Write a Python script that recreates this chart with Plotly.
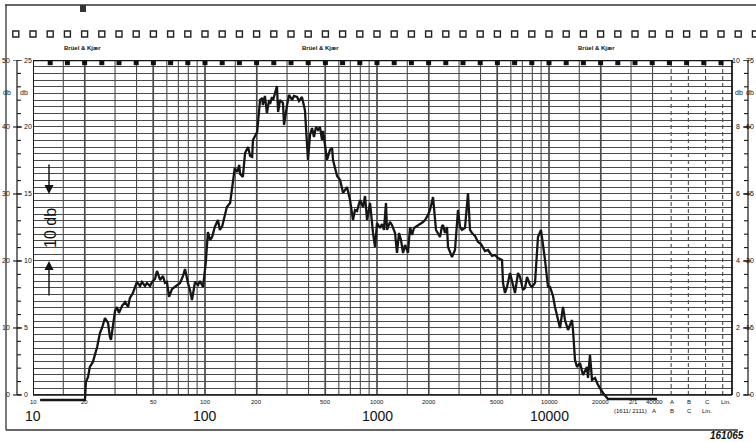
import numpy as np
import plotly.graph_objects as go

# Recorder trace: frequency (Hz) and level (dB on the 0-50 scale)
FREQ_HZ = [
    11, 20, 20.1, 20.3, 20.9, 21.4, 22.3, 23.6, 24.5, 25.2, 26.2, 27.3, 28.0, 28.4, 30.0,
    30.8, 31.6, 32.9, 34.3, 35.7, 36.6, 38.1, 40.2, 41.9, 43.0, 44.8, 46.0, 47.9, 49.2,
    51.2, 52.6, 54.8, 57.0, 58.5, 60.1, 61.8, 64.3, 66.9, 69.7, 71.6, 74.5, 76.5, 79.6,
    81.8, 84.0, 87.5, 91.1, 93.5, 97.4, 101, 104, 107, 110, 114, 119, 122, 126, 131, 134,
    140, 146, 149, 154, 158, 160, 166, 171, 178, 183, 188, 190, 201, 209, 215, 217, 223,
    229, 236, 239, 245, 249, 255, 262, 266, 273, 284, 288, 300, 308, 321, 329, 343, 352,
    366, 381, 397, 408, 419, 430, 442, 454, 466, 479, 486, 499, 512, 533, 548, 555, 586,
    610, 635, 669, 697, 725, 745, 765, 797, 829, 852, 875, 911, 948, 974, 1000, 1041,
    1069, 1098, 1128, 1143, 1190, 1222, 1273, 1307, 1343, 1379, 1417, 1455, 1494, 1514,
    1556, 1598, 1641, 1709, 1778, 1851, 1902, 1980, 2033, 2117, 2203, 2324, 2388, 2420,
    2485, 2553, 2588, 2658, 2729, 2841, 2957, 3038, 3120, 3248, 3381, 3473, 3567, 3713,
    3866, 4024, 4246, 4420, 4664, 4853, 5052, 5331, 5403, 5549, 5700, 5933, 6096, 6345,
    6604, 6785, 7063, 7254, 7451, 7757, 7965, 8292, 8630, 8984, 9478, 9867, 10135, 10550,
    10838, 11282, 11588, 12063, 12389, 12898, 13608, 13790, 14163, 14548, 15143, 15764,
    16632, 16855, 17314, 17783, 18513, 19273, 20606, 22029, 42463,
]
LEVEL_DB = [
    -0.75, -0.75, -0.3, 1.94, 2.69, 4.18, 4.93, 7.16, 9.25, 10.0, 11.49, 10.75, 8.66, 8.21,
    12.54, 13.13, 12.24, 13.28, 13.88, 13.13, 14.48, 15.22, 16.87, 16.27, 16.87, 16.27,
    16.72, 16.27, 16.87, 17.31, 18.51, 17.16, 17.76, 16.72, 16.87, 14.63, 15.82, 16.12,
    16.42, 16.72, 17.76, 18.81, 16.72, 15.67, 14.18, 16.87, 16.42, 17.01, 16.12, 19.70,
    24.33, 23.13, 23.58, 25.07, 26.12, 24.63, 25.22, 26.87, 28.06, 28.66, 32.54, 33.88,
    33.28, 34.33, 32.99, 32.54, 36.12, 37.01, 35.67, 35.52, 38.06, 39.25, 44.03, 44.33,
    43.28, 44.63, 42.09, 44.03, 43.43, 44.48, 44.03, 45.07, 46.12, 42.24, 44.03, 43.58,
    40.30, 43.28, 44.78, 44.03, 44.63, 44.48, 43.88, 44.48, 42.54, 35.07, 38.81, 39.85,
    38.51, 40.0, 39.55, 40.0, 38.06, 39.40, 37.16, 35.07, 36.57, 36.87, 35.07, 32.69,
    32.09, 30.15, 31.04, 29.10, 26.12, 27.61, 27.46, 29.10, 28.06, 29.70, 26.12, 28.66,
    24.18, 22.09, 25.67, 24.93, 25.52, 24.63, 28.66, 24.63, 25.82, 25.37, 24.18, 21.19,
    24.18, 23.13, 21.19, 22.39, 21.64, 21.19, 25.07, 23.88, 24.93, 25.22, 25.52, 25.82,
    26.12, 26.87, 27.61, 29.55, 24.63, 23.58, 25.22, 25.37, 24.18, 25.07, 22.09, 21.34,
    20.60, 21.64, 27.61, 25.07, 24.63, 24.93, 30.15, 24.63, 24.18, 23.73, 22.84, 22.54,
    21.49, 21.64, 20.75, 20.90, 20.45, 20.15, 16.72, 15.22, 16.12, 18.21, 17.16, 15.22,
    18.21, 17.61, 15.67, 15.97, 17.61, 16.42, 16.12, 16.72, 23.58, 24.63, 20.15, 16.12,
    16.12, 14.78, 13.13, 11.19, 10.0, 13.13, 11.19, 9.70, 11.19, 9.70, 5.22, 4.18, 4.78,
    2.99, 4.18, 2.54, 5.97, 2.24, 2.54, 1.49, 0.30, -0.6, -0.6,
]
assert len(FREQ_HZ) == len(LEVEL_DB), (len(FREQ_HZ), len(LEVEL_DB))

# chart-paper rulings
GRID_FREQS = [15, 20, 30, 40, 50, 60, 70, 80, 90,
              100, 150, 200, 300, 400, 500, 600, 700, 800, 900,
              1000, 1500, 2000, 3000, 4000, 5000, 6000, 7000, 8000, 9000,
              10000, 15000, 20000, 30000, 40000]
HEAVY_FREQS = [20, 50, 100, 200, 500, 1000, 2000, 5000, 10000, 20000]
WEIGHT_COLS = [51300, 64600, 81300, 102300]  # A, B, C, Lin. columns
SMALL_FREQS = [10, 20, 50, 100, 200, 500, 1000, 2000, 5000, 10000, 20000]
SMALL_LABELS = ["10", "20", "50", "100", "200", "500", "1000", "2000", "5000", "10000", "20000"]
WEIGHT_LABELS = ["A", "B", "C", "Lin."]
DECADE_FREQS = [10, 100, 1000, 10000]
DECADE_LABELS = ["10", "100", "1000", "10000"]
DB_MAJOR = [0, 10, 20, 30, 40, 50]
LEFT_OUTER = ["0", "10", "20", "30", "40", "50"]
LEFT_INNER = ["0", "5", "10", "15", "20", "25"]
RIGHT_INNER = ["0", "2", "4", "6", "8", "10"]
RIGHT_OUTER = ["0", "15", "30", "45", "60", "75"]
BRAND_FREQS = [19.5, 470, 19000]

W, H = 756, 442
L, R, T, B = 33, 24, 60, 39
PW, PH = W - L - R, H - T - B
DECADE_PX = 172
INK = "#161616"
GRID = "#4a4a4a"
FONT = "Liberation Sans, Arial, sans-serif"


def xp(px):
    return (px - L) / PW


def yp(py):
    return (H - B - py) / PH


fig = go.Figure()

# recorder pen trace
fig.add_trace(go.Scatter(x=FREQ_HZ, y=LEVEL_DB, mode="lines",
                         line=dict(color=INK, width=2.3), hoverinfo="skip", showlegend=False))
# marks along the top edge of the grid
fig.add_trace(go.Scatter(x=10 ** np.arange(1.1, 5.01, 0.1), y=[49.6] * 40, mode="markers",
                         marker=dict(symbol="square", size=5, color="#111"),
                         cliponaxis=False, hoverinfo="skip", showlegend=False))

shapes = []
for f in GRID_FREQS:
    shapes.append(dict(type="line", xref="x", yref="y", x0=f, x1=f, y0=0, y1=50, layer="below",
                       line=dict(color=GRID, width=1.7 if f in HEAVY_FREQS else 1.1)))
for f in WEIGHT_COLS:
    shapes.append(dict(type="line", xref="x", yref="y", x0=f, x1=f, y0=0, y1=50, layer="below",
                       line=dict(color=GRID, width=1.1, dash="4px,3px")))
# plot frame
shapes += [
    dict(type="line", xref="x", yref="y", x0=10, x1=10, y0=0, y1=50, line=dict(color=INK, width=2)),
    dict(type="line", xref="paper", yref="y", x0=1, x1=1, y0=0, y1=50, line=dict(color=INK, width=1.8)),
    dict(type="line", xref="paper", yref="y", x0=0, x1=1, y0=50, y1=50, line=dict(color=INK, width=2.5)),
    dict(type="line", xref="paper", yref="y", x0=0, x1=1, y0=0, y1=0, line=dict(color=INK, width=1.6)),
]
# page frame
shapes += [
    dict(type="line", xref="paper", yref="paper", x0=xp(5), x1=xp(756), y0=yp(5), y1=yp(5),
         line=dict(color="#333", width=1.3)),
    dict(type="line", xref="paper", yref="paper", x0=xp(6), x1=xp(6), y0=yp(5), y1=yp(430),
         line=dict(color="#333", width=1.3)),
    dict(type="line", xref="paper", yref="paper", x0=xp(6), x1=xp(738), y0=yp(430), y1=yp(430),
         line=dict(color="#333", width=1.3)),
]
# sprocket holes of the recorder paper
for k in np.arange(-0.1, 4.21, 0.1):
    cx = L + DECADE_PX * k
    shapes.append(dict(type="rect", xref="paper", yref="paper", x0=xp(cx - 3), x1=xp(cx + 3),
                       y0=yp(37), y1=yp(31), line=dict(color="#222", width=1.4)))
shapes.append(dict(type="rect", xref="paper", yref="paper", x0=xp(80), x1=xp(86),
                   y0=yp(12), y1=yp(5), fillcolor="#333", line=dict(width=0)))
# side scales
for xl in (17, 748):
    shapes.append(dict(type="line", xref="paper", yref="y", x0=xp(xl), x1=xp(xl), y0=0, y1=50,
                       line=dict(color=INK, width=1.2)))
for v in range(0, 51, 2):
    shapes.append(dict(type="line", xref="paper", yref="y", x0=xp(17), x1=xp(21), y0=v, y1=v,
                       line=dict(color=INK, width=1.1)))
    shapes.append(dict(type="line", xref="paper", yref="y", x0=xp(744), x1=xp(748), y0=v, y1=v,
                       line=dict(color=INK, width=1.1)))
for v in DB_MAJOR:
    shapes.append(dict(type="line", xref="paper", yref="y", x0=xp(13), x1=xp(22), y0=v, y1=v,
                       line=dict(color=INK, width=1.1)))
    shapes.append(dict(type="line", xref="paper", yref="y", x0=xp(743), x1=xp(751), y0=v, y1=v,
                       line=dict(color=INK, width=1.1)))

ann = []


def text(x, y, s, size=6, xref="paper", yref="paper", xanchor="center", family=FONT, **kw):
    ann.append(dict(x=x, y=y, xref=xref, yref=yref, text=s, showarrow=False, xanchor=xanchor,
                    yanchor="middle", font=dict(family=family, size=size, color="#111"), **kw))


for v, a, b in zip(DB_MAJOR, LEFT_OUTER, LEFT_INNER):
    text(xp(12), v, a, size=7, yref="y", xanchor="right")
    text(xp(22), v, b, size=7, yref="y", xanchor="left")
for v, a, b in zip(DB_MAJOR, RIGHT_INNER, RIGHT_OUTER):
    text(xp(742), v, a, size=7, yref="y", xanchor="right")
    text(xp(756), v, b, size=7, yref="y", xanchor="right")
text(xp(7), yp(92), "db", size=7)
text(xp(24), yp(92), "db", size=7)
text(xp(739), yp(92), "db", size=7)
text(xp(756), yp(92), "db", size=7, xanchor="right")

for f, s in zip(SMALL_FREQS, SMALL_LABELS):
    text(np.log10(f), yp(402), s, xref="x")
text(xp(633), yp(402), "2/1")
text(xp(654), yp(402), "40000")
for x, s in zip((672, 689, 707, 726), WEIGHT_LABELS):
    text(xp(x), yp(402), s)
text(xp(630), yp(411), "(1611/ 2111)")
for x, s in zip((654, 672, 689, 707), WEIGHT_LABELS):
    text(xp(x), yp(411), s)
for f, s in zip(DECADE_FREQS, DECADE_LABELS):
    text(np.log10(f), yp(416), s, size=14, xref="x")
for f in BRAND_FREQS:
    text(np.log10(f), yp(48), "<b>Brüel &amp; Kjær</b>", size=6, xref="x")
text(xp(727), yp(436), "<b><i>161065</i></b>", size=10)

# 10 dB calibration mark
text(xp(50), yp(228), "10 db", size=16, textangle=-90)
for tip, tail in ((194, 163), (261, 297)):
    ann.append(dict(x=xp(49), y=yp(tip), xref="paper", yref="paper", text="", showarrow=True,
                    ax=0, ay=tail - tip, arrowhead=2, arrowsize=1.3, arrowwidth=1.4,
                    arrowcolor="#111"))

fig.update_layout(
    width=W, height=H,
    margin=dict(l=L, r=R, t=T, b=B),
    paper_bgcolor="white", plot_bgcolor="white",
    showlegend=False,
    shapes=shapes,
    annotations=ann,
    font=dict(family=FONT, color="#111"),
)
fig.update_xaxes(type="log", range=[1, 1 + PW / DECADE_PX], showgrid=False, showticklabels=False,
                 zeroline=False, showline=False, ticks="")
fig.update_yaxes(range=[-1.2, 50], tickvals=list(range(0, 51)), showgrid=True,
                 gridcolor=GRID, gridwidth=1, showticklabels=False, zeroline=False,
                 showline=False, ticks="")

fig.write_html("out.html", config={"displayModeBar": False},
               post_script="document.body.style.margin='0';document.body.style.overflow='hidden';")
